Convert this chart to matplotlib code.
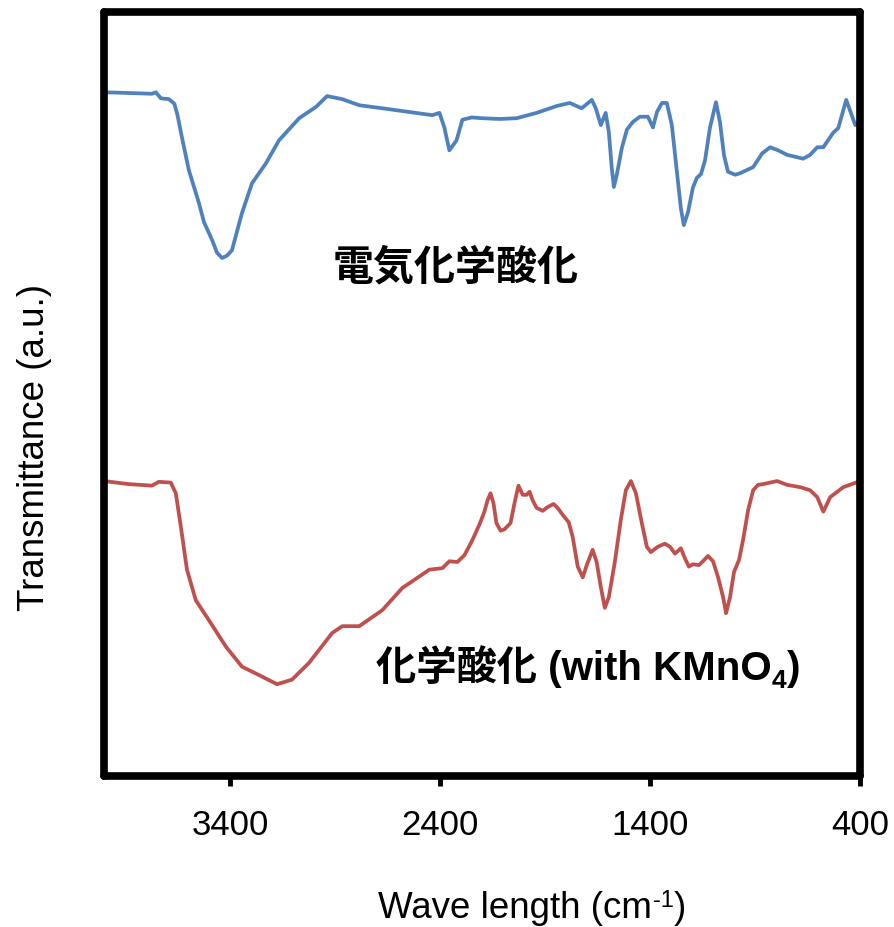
import matplotlib
matplotlib.use('Agg')
from matplotlib import pyplot as plt

plt.rcParams['font.family'] = ['Liberation Sans', 'Noto Sans CJK JP', 'DejaVu Sans']

# electrochemical oxidation (blue)
wn_electro = [4000, 3880, 3772, 3753, 3729, 3691, 3665, 3650, 3629, 3596, 3548, 3524,
              3486, 3462, 3438, 3415, 3391, 3343, 3295, 3229, 3167, 3071, 2990, 2938,
              2866, 2785, 2675, 2437, 2403, 2380, 2356, 2322, 2294, 2250, 2198, 2117,
              2036, 1941, 1845, 1783, 1726, 1678, 1659, 1635, 1612, 1597, 1583, 1573,
              1559, 1535, 1511, 1483, 1449, 1411, 1387, 1368, 1344, 1321, 1297, 1273,
              1254, 1240, 1220, 1197, 1178, 1158, 1139, 1116, 1087, 1068, 1049, 1030,
              996, 972, 910, 867, 829, 791, 748, 701, 672, 639, 605, 576, 529, 505,
              467, 424, 400]
t_electro = [89.5, 89.4, 89.3, 89.5, 88.7, 88.6, 88.0, 86.5, 83.6, 79.3, 75.0, 72.5,
             70.2, 68.5, 67.8, 68.1, 68.8, 73.7, 77.6, 80.2, 83.2, 86.1, 87.6, 89.0,
             88.6, 87.8, 87.4, 86.5, 86.8, 84.9, 81.9, 83.2, 85.9, 86.2, 86.1, 86.0,
             86.1, 86.8, 87.7, 88.1, 87.4, 88.5, 87.4, 85.2, 86.8, 84.3, 79.6, 77.1,
             78.7, 82.2, 84.6, 85.6, 86.3, 86.3, 84.9, 86.9, 88.1, 88.1, 85.2, 79.1,
             74.3, 72.1, 73.8, 77.0, 78.3, 78.8, 80.6, 84.8, 88.2, 85.6, 81.3, 79.1,
             78.7, 78.9, 79.7, 81.5, 82.3, 81.9, 81.3, 81.0, 80.8, 81.3, 82.3, 82.3,
             84.2, 84.8, 88.5, 85.2, 85.7]

# chemical oxidation with KMnO4 (red)
wn_chem = [4000, 3882, 3772, 3739, 3682, 3658, 3634, 3605, 3563, 3501, 3419, 3343,
           3262, 3176, 3105, 3024, 2914, 2866, 2785, 2675, 2580, 2451, 2389, 2356,
           2318, 2284, 2246, 2213, 2189, 2174, 2160, 2146, 2132, 2112, 2093, 2065,
           2046, 2027, 2007, 1988, 1974, 1960, 1941, 1912, 1888, 1860, 1841, 1817,
           1788, 1769, 1745, 1721, 1702, 1674, 1655, 1635, 1616, 1597, 1569, 1540,
           1516, 1492, 1468, 1440, 1416, 1397, 1364, 1330, 1306, 1282, 1254, 1235,
           1216, 1197, 1168, 1149, 1125, 1101, 1077, 1053, 1039, 1020, 1001, 977,
           958, 934, 910, 887, 863, 796, 748, 686, 639, 605, 576, 543, 481, 410, 400]
t_chem = [38.6, 38.2, 38.0, 38.5, 38.4, 37.0, 32.6, 27.0, 23.0, 20.4, 16.9, 14.3,
          13.2, 12.0, 12.6, 14.8, 18.7, 19.6, 19.6, 21.7, 24.6, 27.0, 27.2, 28.1,
          28.0, 28.9, 30.9, 32.9, 34.6, 36.1, 37.0, 35.7, 33.1, 32.1, 32.3, 33.1,
          35.7, 38.0, 36.8, 36.8, 37.2, 36.1, 35.1, 34.7, 35.2, 35.6, 35.1, 34.2,
          33.2, 31.3, 27.4, 26.0, 27.6, 29.6, 28.0, 24.7, 22.0, 23.4, 27.9, 33.5,
          37.4, 38.6, 37.0, 33.1, 30.0, 29.3, 30.0, 30.4, 30.0, 29.1, 29.8, 28.5,
          27.4, 27.7, 27.6, 28.1, 28.8, 28.1, 26.0, 23.4, 21.3, 23.4, 26.7, 28.3,
          30.9, 34.8, 37.4, 38.1, 38.2, 38.6, 38.1, 37.8, 37.4, 36.5, 34.6, 36.5,
          37.8, 38.5, 38.6]

xticks = [3400, 2400, 1400, 400]

fig = plt.figure(figsize=(8.94, 9.27), dpi=100)
ax = fig.add_axes([0.1163, 0.163, 0.846, 0.824])

ax.plot(wn_electro, t_electro, color='#4F81BD', lw=2.7,
        solid_joinstyle='round', solid_capstyle='round')
ax.plot(wn_chem, t_chem, color='#C0504D', lw=2.7,
        solid_joinstyle='round', solid_capstyle='round')

ax.set_xlim(4000, 400)
ax.set_ylim(0, 100)
ax.set_xticks(xticks)
ax.set_xticklabels([str(v) for v in xticks])
ax.set_yticks([])
ax.tick_params(axis='x', direction='out', length=7, width=3.5, labelsize=25, pad=17)

for s in ax.spines.values():
    s.set_linewidth(5.5)
    s.set_capstyle('round')

ax.set_ylabel('Transmittance (a.u.)', fontsize=26.5)
ax.yaxis.set_label_coords(-0.069, 0.43)

# x label "Wave length (cm-1)" with a superscript -1
xl = fig.text(0.4228, 0.0097, 'Wave length (cm', fontsize=26.5, ha='left', va='baseline')
sup = ax.annotate('-1', xy=(1, 0), xycoords=xl, xytext=(0.5, 13.5),
                  textcoords='offset points', fontsize=17, ha='left', va='baseline',
                  annotation_clip=False)
ax.annotate(')', xy=(1, 0), xycoords=(sup, xl), fontsize=26.5, ha='left', va='bottom',
            annotation_clip=False)

ax.text(2914, 66.6, '電気化学酸化', fontsize=29.5, fontweight='bold',
        ha='left', va='center')

# "化学酸化 (with KMnO4)" with subscript 4, built from three pieces
t1 = ax.text(2704, 14.3, '化学酸化 (with KMnO', fontsize=29, fontweight='bold',
             ha='left', va='center')
t4 = ax.annotate('4', xy=(1, 0), xycoords=t1, fontsize=19, fontweight='bold',
                 ha='left', va='baseline')
ax.annotate(')', xy=(1, 0), xycoords=(t4, t1), fontsize=29, fontweight='bold',
            ha='left', va='bottom')

plt.savefig('out.png', dpi=100)
plt.close()
